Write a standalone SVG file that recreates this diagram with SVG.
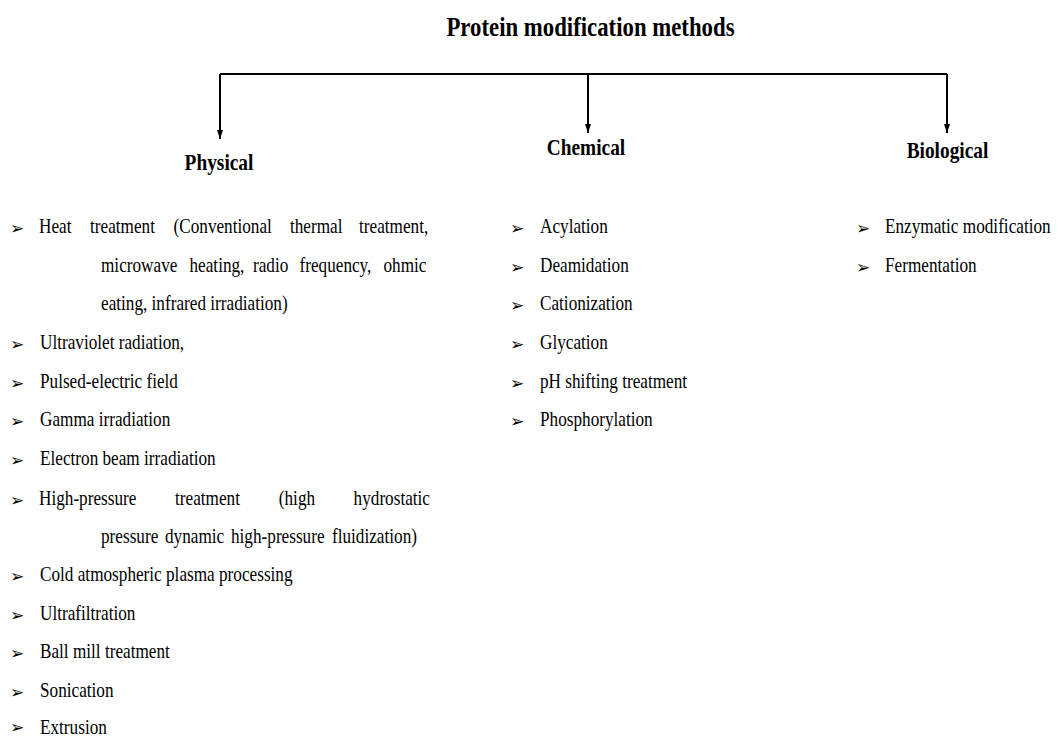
<svg xmlns="http://www.w3.org/2000/svg" width="1058" height="738" viewBox="0 0 1058 738">
<style>
text{font-family:"Liberation Serif","Times New Roman",serif;fill:#000}
.t{font-size:26.5px;font-weight:bold}
.h{font-size:22.5px;font-weight:bold}
.b{font-size:20px}
.bul{font-family:"DejaVu Sans",sans-serif;font-size:17px}
.c{fill:none;stroke:#000;stroke-width:2}
</style>
<defs>
<marker id="ah" markerUnits="userSpaceOnUse" markerWidth="10" markerHeight="7" refX="9" refY="3" orient="auto">
<path d="M0,0 L9,3 L0,6 z" fill="#000"/>
</marker>
</defs>
<rect width="1058" height="738" fill="#fff"/>
<g id="title"><text class="t" text-anchor="middle" transform="translate(590.5,36) scale(0.86,1)">Protein modification methods</text></g>
<g id="connectors">
<path class="c" d="M220,74 H947"/>
<path class="c" d="M220,74 V139" marker-end="url(#ah)"/>
<path class="c" d="M588,74 V133" marker-end="url(#ah)"/>
<path class="c" d="M947,74 V133" marker-end="url(#ah)"/>
</g>
<g id="physical">
<text class="h" text-anchor="middle" transform="translate(219,170) scale(0.86,1)">Physical</text>
</g>
<g id="chemical">
<text class="h" text-anchor="middle" transform="translate(586,155) scale(0.86,1)">Chemical</text>
</g>
<g id="biological">
<text class="h" text-anchor="middle" transform="translate(947.5,158) scale(0.86,1)">Biological</text>
</g>
<g id="physical-list">
<text class="bul" x="10" y="234">➢</text>
<text class="b" transform="translate(39,233) scale(0.86,1)">Heat</text>
<text class="b" transform="translate(90,233) scale(0.86,1)">treatment</text>
<text class="b" transform="translate(173.5,233) scale(0.86,1)">(Conventional</text>
<text class="b" transform="translate(290,233) scale(0.86,1)">thermal</text>
<text class="b" transform="translate(359,233) scale(0.86,1)">treatment,</text>
<text class="b" transform="translate(101,271.7) scale(0.86,1)">microwave</text>
<text class="b" transform="translate(189.5,271.7) scale(0.86,1)">heating,</text>
<text class="b" transform="translate(253,271.7) scale(0.86,1)">radio</text>
<text class="b" transform="translate(299.5,271.7) scale(0.86,1)">frequency,</text>
<text class="b" transform="translate(383.5,271.7) scale(0.86,1)">ohmic</text>
<text class="b" transform="translate(101,310.4) scale(0.86,1)">eating, infrared irradiation)</text>
<text class="bul" x="10" y="350">➢</text>
<text class="b" transform="translate(40,349) scale(0.86,1)">Ultraviolet radiation,</text>
<text class="bul" x="10" y="388.7">➢</text>
<text class="b" transform="translate(40,387.7) scale(0.86,1)">Pulsed-electric field</text>
<text class="bul" x="10" y="427.4">➢</text>
<text class="b" transform="translate(40,426.4) scale(0.86,1)">Gamma irradiation</text>
<text class="bul" x="10" y="466">➢</text>
<text class="b" transform="translate(40,465) scale(0.86,1)">Electron beam irradiation</text>
<text class="bul" x="10" y="505.7">➢</text>
<text class="b" transform="translate(39,504.7) scale(0.86,1)">High-pressure</text>
<text class="b" transform="translate(175,504.7) scale(0.86,1)">treatment</text>
<text class="b" transform="translate(278.8,504.7) scale(0.86,1)">(high</text>
<text class="b" transform="translate(353.6,504.7) scale(0.86,1)">hydrostatic</text>
<text class="b" transform="translate(101,543) scale(0.86,1)">pressure</text>
<text class="b" transform="translate(165,543) scale(0.86,1)">dynamic</text>
<text class="b" transform="translate(231,543) scale(0.86,1)">high-pressure</text>
<text class="b" transform="translate(332,543) scale(0.86,1)">fluidization)</text>
<text class="bul" x="10" y="582">➢</text>
<text class="b" transform="translate(40,581) scale(0.86,1)">Cold atmospheric plasma processing</text>
<text class="bul" x="10" y="620.7">➢</text>
<text class="b" transform="translate(40,619.7) scale(0.86,1)">Ultrafiltration</text>
<text class="bul" x="10" y="659.4">➢</text>
<text class="b" transform="translate(40,658.4) scale(0.86,1)">Ball mill treatment</text>
<text class="bul" x="10" y="698">➢</text>
<text class="b" transform="translate(40,697) scale(0.86,1)">Sonication</text>
<text class="bul" x="10" y="733">➢</text>
<text class="b" transform="translate(40,733.5) scale(0.86,1)">Extrusion</text>
</g>
<g id="chemical-list">
<text class="bul" x="510" y="234">➢</text>
<text class="b" transform="translate(540,233) scale(0.86,1)">Acylation</text>
<text class="bul" x="510" y="273">➢</text>
<text class="b" transform="translate(540,272) scale(0.86,1)">Deamidation</text>
<text class="bul" x="510" y="311.4">➢</text>
<text class="b" transform="translate(540,310.4) scale(0.86,1)">Cationization</text>
<text class="bul" x="510" y="350">➢</text>
<text class="b" transform="translate(540,349) scale(0.86,1)">Glycation</text>
<text class="bul" x="510" y="388.7">➢</text>
<text class="b" transform="translate(540,387.7) scale(0.86,1)">pH shifting treatment</text>
<text class="bul" x="510" y="427.4">➢</text>
<text class="b" transform="translate(540,426.4) scale(0.86,1)">Phosphorylation</text>
</g>
<g id="biological-list">
<text class="bul" x="856" y="234">➢</text>
<text class="b" transform="translate(885,233) scale(0.86,1)">Enzymatic modification</text>
<text class="bul" x="856" y="273">➢</text>
<text class="b" transform="translate(885,272) scale(0.86,1)">Fermentation</text>
</g>
</svg>
